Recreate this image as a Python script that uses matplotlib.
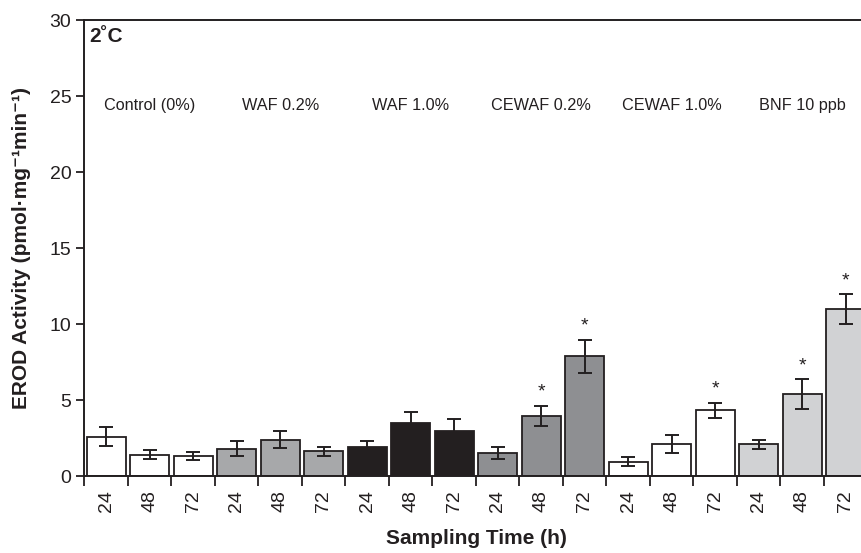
import numpy as np
import matplotlib
matplotlib.use("Agg")
from matplotlib import pyplot as plt

plt.rcParams['font.family'] = ['Liberation Sans', 'DejaVu Sans']

# data
groups = ['Control (0%)', 'WAF 0.2%', 'WAF 1.0%', 'CEWAF 0.2%', 'CEWAF 1.0%', 'BNF 10 ppb']
group_colors = ['#ffffff', '#a7a8aa', '#231f20', '#8e8f92', '#ffffff', '#d1d2d4']
times = ['24', '48', '72']
means = [2.6, 1.4, 1.32,
         1.8, 2.39, 1.62,
         1.93, 3.47, 2.98,
         1.53, 3.95, 7.89,
         0.94, 2.1, 4.32,
         2.1, 5.39, 10.96]
errors = [0.65, 0.3, 0.28,
          0.48, 0.57, 0.28,
          0.35, 0.74, 0.77,
          0.38, 0.68, 1.08,
          0.29, 0.58, 0.48,
          0.29, 0.97, 0.99]
significant = [False, False, False,
               False, False, False,
               False, False, False,
               False, True, True,
               False, False, True,
               False, True, True]

fig = plt.figure(figsize=(8.61, 5.53), dpi=100)
ax = fig.add_axes([0.0981, 0.1392, 0.9094, 0.8246])

n = len(means)
x = np.arange(n) + 0.5
colors = [c for c in group_colors for _ in times]
ax.bar(x, means, width=0.9, color=colors, edgecolor='#231f20', linewidth=1.3,
       yerr=errors, error_kw=dict(ecolor='#231f20', elinewidth=1.4, capsize=5, capthick=1.4))

# significance stars above the error bars
for xi, m, e, s in zip(x, means, errors, significant):
    if s:
        ax.text(xi, m + e + 0.35, '*', ha='center', va='bottom', fontsize=14, color='#231f20')

for i, g in enumerate(groups):
    ax.text(1.5 + 3 * i, 24.35, g, ha='center', va='center', fontsize=11.7, color='#231f20')

ax.text(0.12, 28.9, '2˚C', ha='left', va='center', fontsize=15, fontweight='bold', color='#231f20')

ax.set_xlim(0, n)
ax.set_ylim(0, 30)
ax.set_yticks([0, 5, 10, 15, 20, 25, 30])
ax.tick_params(axis='y', labelsize=14, length=6, width=1.3, colors='#231f20')
# ticks between bars, labels under bars
ax.set_xticks(np.arange(n + 1))
ax.set_xticklabels([])
ax.tick_params(axis='x', which='major', length=7, width=1.3, colors='#231f20')
ax.set_xticks(x, minor=True)
ax.set_xticklabels(times * len(groups), minor=True, rotation=90, fontsize=14)
ax.tick_params(axis='x', which='minor', length=0, pad=10, colors='#231f20')

for sp in ax.spines.values():
    sp.set_linewidth(1.4)
    sp.set_color('#231f20')

fig.text(476 / 861, 1 - 538 / 553, 'Sampling Time (h)', ha='center', va='center',
         fontsize=15, fontweight='bold', color='#231f20')
fig.text(22 / 861, 1 - 248 / 553, 'EROD Activity (pmol·mg⁻¹min⁻¹)', ha='center', va='center',
         rotation=90, fontsize=15, fontweight='bold', color='#231f20')

fig.savefig('out.png', dpi=100)
